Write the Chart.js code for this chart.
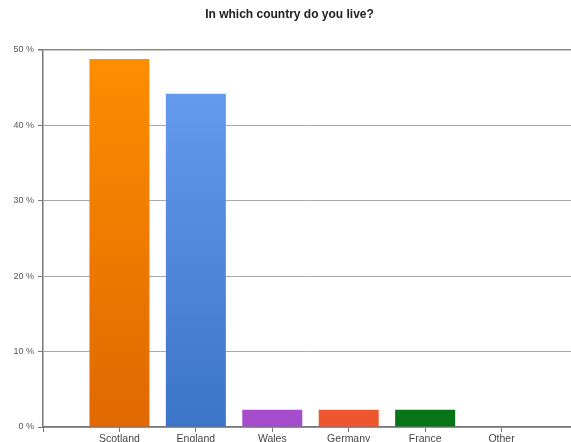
<!DOCTYPE html>
<html>
<head>
<meta charset="utf-8">
<script src="https://cdn.jsdelivr.net/npm/chart.js@4"></script>
<style>
  html, body { margin: 0; padding: 0; background: #fff; overflow: hidden; }
</style>
</head>
<body>
<canvas id="myChart" width="579" height="442"></canvas>
<script>
// survey answers, percent of respondents
const countries = ['Scotland', 'England', 'Wales', 'Germany', 'France', 'Other'];
const percents = [48.8, 44.2, 2.3, 2.3, 2.3, 0];
const yTicks = [0, 10, 20, 30, 40, 50];

// bar colours, top and bottom of the gradient
const topColors = ['#ff8e00', '#6a9ff0', '#b05ad8', '#f8603a', '#0c8420', '#999999'];
const bottomColors = ['#e06800', '#3c74c8', '#a44ccc', '#ee5630', '#087418', '#999999'];

// empty slot at each end so the bars sit where the original put them
const labels = [''].concat(countries, ['']);
const values = [null].concat(percents, [null]);

function barColor(ctx) {
  const chart = ctx.chart;
  const area = chart.chartArea;
  const i = ctx.dataIndex - 1;
  if (!area || i < 0 || i >= countries.length) return '#999';
  const g = chart.ctx.createLinearGradient(0, area.top, 0, area.bottom);
  g.addColorStop(0, topColors[i]);
  g.addColorStop(1, bottomColors[i]);
  return g;
}

const ctx = document.getElementById('myChart').getContext('2d');
const chart = new Chart(ctx, {
  type: 'bar',
  data: {
    labels: labels,
    datasets: [{
      label: 'In which country do you live?',
      data: values,
      backgroundColor: barColor,
      borderWidth: 0,
      categoryPercentage: 1,
      barPercentage: 0.785
    }]
  },
  options: {
    responsive: false,
    devicePixelRatio: 1,
    animation: false,
    layout: { padding: 0 },
    plugins: {
      legend: { display: false },
      tooltip: { enabled: false },
      title: {
        display: true,
        text: 'In which country do you live?',
        color: '#222',
        font: { family: 'Liberation Sans', size: 12, weight: 'bold' },
        padding: { top: 7.5, bottom: 28.1 }
      }
    },
    scales: {
      x: {
        offset: false,
        grid: {
          offset: false,
          drawOnChartArea: false,
          drawTicks: true,
          tickLength: 5,
          tickColor: '#777'
        },
        border: { color: '#777', width: 1.5 },
        ticks: {
          autoSkip: false,
          maxRotation: 0,
          padding: 1,
          color: '#444',
          font: { family: 'Liberation Sans', size: 10.5 }
        },
        afterFit: scale => { scale.height = 15; }
      },
      y: {
        min: 0,
        max: 50,
        afterBuildTicks: scale => { scale.ticks = yTicks.map(v => ({ value: v })); },
        grid: {
          color: c => (c.tick && c.tick.value === 50 ? '#888' : '#aaa'),
          lineWidth: c => (c.tick && c.tick.value === 50 ? 1.5 : 1),
          tickLength: 5,
          tickColor: '#777'
        },
        border: { color: '#777', width: 1.5 },
        ticks: {
          padding: 4,
          color: '#555',
          font: { family: 'Liberation Sans', size: 9 },
          callback: v => v + ' %'
        },
        afterFit: scale => { scale.width = 43; }
      }
    }
  }
});
</script>
</body>
</html>
